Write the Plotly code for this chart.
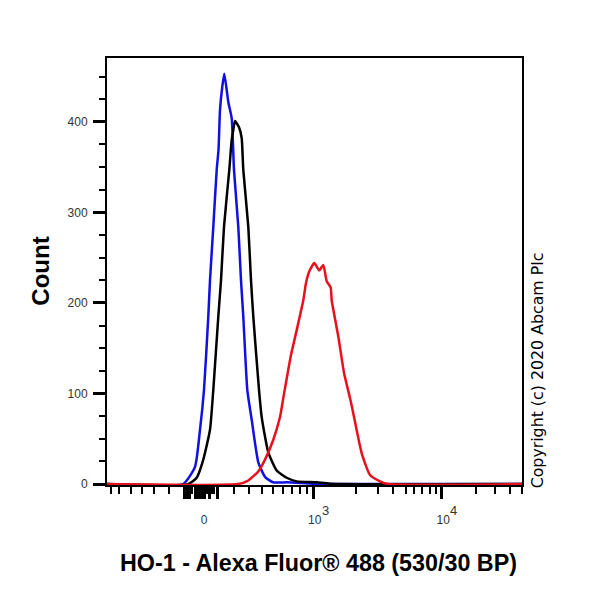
import plotly.graph_objects as go

# x values are display channels on the biexponential scale, 0 is the "0" tick
blue_x = [-97, -21, -9, -4, 0, 4.3, 6, 9.3, 12.7, 14.5, 16, 18.3, 20.3, 24.3, 27.7, 30, 34.3, 37, 39.3, 43.3, 47.7, 54.3, 61, 69, 83, 109, 130, 318]
blue_y = [0, 0, 19, 60, 104, 185, 225, 284, 347, 369, 413, 439, 453, 422, 404, 347, 284, 225, 185, 104, 71, 24, 8, 2, 2, 0.5, 0, 0]
black_x = [-97, -16, -7.3, -0.7, 6, 9.3, 14.3, 17, 20, 25.3, 27.7, 29.3, 31, 35, 37.7, 39.3, 44.3, 47, 49.3, 55, 57.7, 64.3, 72.7, 82.7, 92.7, 112.7, 126, 318]
black_y = [0, 0, 7, 27, 60, 104, 185, 225, 284, 347, 380, 391, 401, 394, 382, 347, 284, 225, 185, 104, 74, 35, 15, 7, 3, 2, 0.5, 0]
red_x = [-97, 34, 44.3, 54.3, 61, 69.3, 76, 79.3, 86.7, 92.7, 99.3, 102, 105.3, 110.3, 115.3, 119.3, 122.7, 126.7, 127.7, 134.3, 140, 146, 149.3, 157.7, 166, 176, 184.3, 318]
red_y = [0, 0, 4, 14, 27, 49, 74, 95, 141, 170, 203, 222, 235, 244, 236, 242, 224, 217, 203, 163, 123, 95, 78, 34, 10, 3, 0, 0]

major_x = [0, 109, 237.5]
major_labels = ["0", "&nbsp;10", "&nbsp;10"]
exponents = ["3", "4"]
# the band of ticks around zero, then the ordinary short ticks
dense_x = [-20, -17.5, -15, -9, -6, -3, 5, 13.5]
dense_short_x = [-12.5, 2.5, 7.5, 10]
minor_x = [-93, -85, -73, -62, -50, -35, 30, 45, 58, 69, 79, 88, 96, 103,
           152, 174, 189, 202, 210, 218, 226, 232, 272, 291, 306, 318]
y_major = [0, 100, 200, 300, 400]
y_minor = [25, 50, 75, 125, 150, 175, 225, 250, 275, 325, 350, 375, 425, 450]

fig = go.Figure()
fig.add_trace(go.Scatter(x=blue_x, y=blue_y, mode="lines", line=dict(color="#1010e0", width=2.5, shape="spline", smoothing=0.5)))
fig.add_trace(go.Scatter(x=black_x, y=black_y, mode="lines", line=dict(color="black", width=2.5, shape="spline", smoothing=0.5)))
fig.add_trace(go.Scatter(x=red_x, y=red_y, mode="lines", line=dict(color="#e8101c", width=2.5, shape="spline", smoothing=0.5)))

annotations = [
    dict(text="<b>Count</b>", xref="paper", yref="paper", x=-0.161, y=0.5, xanchor="center", yanchor="middle",
         textangle=-90, showarrow=False, font=dict(size=24, color="black", family="Liberation Sans")),
    dict(text="Copyright (c) 2020 Abcam Plc", xref="paper", yref="paper", x=1.038, y=0.268, xanchor="center", yanchor="middle",
         textangle=-90, showarrow=False, font=dict(size=15.8, color="black", family="DejaVu Sans")),
    dict(text="<b>HO-1 - Alexa Fluor® 488 (530/30 BP)</b>", xref="paper", yref="paper", x=0.51, y=0, yshift=-78,
         xanchor="center", yanchor="middle", showarrow=False, font=dict(size=23.3, color="black", family="Liberation Sans")),
]
for pos, exp in zip(major_x[1:], exponents):
    annotations.append(dict(text=exp, xref="x", yref="paper", x=pos + 12, y=0, yshift=-25, xanchor="center", yanchor="middle",
                            showarrow=False, font=dict(size=13, color="#333333", family="Liberation Sans")))

fig.update_layout(
    width=592, height=592, showlegend=False,
    plot_bgcolor="white", paper_bgcolor="white",
    margin=dict(l=99, r=78, t=50, b=115),
    font=dict(family="Liberation Sans", color="#333333"),
    xaxis=dict(range=[-97, 318], showgrid=False, zeroline=False, showline=True, linecolor="black", linewidth=2,
               mirror=True, tickmode="array", tickvals=major_x + dense_x, ticktext=major_labels + [""] * len(dense_x),
               ticks="outside", ticklen=12, tickwidth=2.5, tickcolor="black", tickfont=dict(size=12), ticklabelstandoff=11,
               minor=dict(tickmode="array", tickvals=minor_x + dense_short_x, ticks="outside", ticklen=7, tickwidth=2, tickcolor="black", showgrid=False)),
    yaxis=dict(range=[-1, 470.5], showgrid=False, zeroline=False, showline=True, linecolor="black", linewidth=2,
               mirror=True, tickmode="array", tickvals=y_major, ticks="outside", ticklen=12, tickwidth=2.5,
               tickcolor="black", tickfont=dict(size=12), ticklabelstandoff=3,
               minor=dict(tickmode="array", tickvals=y_minor, ticks="outside", ticklen=6, tickwidth=1.5, tickcolor="black", showgrid=False)),
    annotations=annotations,
)

fig.write_html("out.html")
